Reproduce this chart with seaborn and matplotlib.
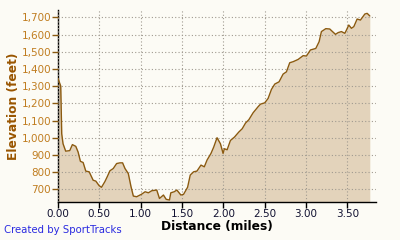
import matplotlib
matplotlib.use("Agg")
import matplotlib.pyplot as plt
import seaborn as sns
import pandas as pd

dist_miles = [0.000, 0.033, 0.045, 0.061, 0.093, 0.142, 0.174, 0.215, 0.243, 0.271,
              0.304, 0.336, 0.377, 0.425, 0.457, 0.498, 0.526, 0.567, 0.595, 0.628,
              0.668, 0.709, 0.749, 0.781, 0.810, 0.850, 0.883, 0.911, 0.951, 1.012,
              1.053, 1.093, 1.134, 1.194, 1.227, 1.275, 1.308, 1.348, 1.364, 1.405,
              1.437, 1.486, 1.518, 1.567, 1.599, 1.640, 1.680, 1.729, 1.769, 1.802,
              1.850, 1.883, 1.923, 1.964, 1.996, 2.012, 2.045, 2.085, 2.134, 2.186,
              2.227, 2.267, 2.308, 2.359, 2.419, 2.448, 2.500, 2.540, 2.581, 2.621,
              2.673, 2.722, 2.762, 2.802, 2.843, 2.903, 2.964, 3.004, 3.052, 3.117,
              3.157, 3.185, 3.238, 3.286, 3.319, 3.355, 3.387, 3.427, 3.468, 3.488,
              3.516, 3.548, 3.577, 3.617, 3.657, 3.710, 3.738, 3.770]
elev_feet = [1345, 1300, 1023, 965, 922, 925, 960, 950, 917, 863,
             856, 806, 802, 753, 748, 721, 712, 745, 773, 808,
             821, 850, 854, 854, 821, 792, 715, 661, 657, 672,
             686, 680, 692, 696, 647, 667, 642, 638, 680, 686,
             696, 667, 671, 712, 783, 802, 806, 841, 831, 870,
             909, 946, 1000, 965, 909, 936, 930, 984, 1004, 1033,
             1052, 1085, 1105, 1145, 1180, 1195, 1203, 1228, 1281, 1312,
             1325, 1370, 1383, 1436, 1442, 1455, 1477, 1475, 1510, 1519,
             1558, 1617, 1634, 1632, 1617, 1601, 1611, 1617, 1607, 1626,
             1655, 1636, 1646, 1690, 1684, 1719, 1723, 1708]

df = pd.DataFrame({"Distance (miles)": dist_miles, "Elevation (feet)": elev_feet})

x_ticks = [0.0, 0.5, 1.0, 1.5, 2.0, 2.5, 3.0, 3.5]
y_ticks = [700, 800, 900, 1000, 1100, 1200, 1300, 1400, 1500, 1600, 1700]

bg = "#fcfbf5"
fill_c = "#e3d3bb"
line_c = "#8b5a10"

sns.set_style("white")
plt.rcParams["font.family"] = ["DejaVu Sans"]

fig = plt.figure(figsize=(4, 2.4), dpi=100, facecolor=bg)
ax = fig.add_axes([0.145, 0.158, 0.795, 0.8])
ax.set_facecolor(bg)

ax.fill_between(df["Distance (miles)"], df["Elevation (feet)"], 600, color=fill_c, lw=0, zorder=1)
sns.lineplot(data=df, x="Distance (miles)", y="Elevation (feet)", ax=ax, color=line_c,
             lw=1.0, zorder=3)

ax.set_xlim(0, 3.845)
ax.set_ylim(626, 1742)
ax.set_xticks(x_ticks)
ax.set_xticklabels([f"{v:.2f}" for v in x_ticks])
ax.set_yticks(y_ticks)
ax.set_yticklabels([f"{v:,}" for v in y_ticks])

ax.set_axisbelow(False)
ax.grid(True, color="#a09a90", ls=(0, (1, 2)), lw=0.8, zorder=2)

for s in ["top", "right"]:
    ax.spines[s].set_visible(False)
for s in ["left", "bottom"]:
    ax.spines[s].set_color("black")
    ax.spines[s].set_linewidth(1.0)

ax.tick_params(axis="y", direction="out", length=4, width=1, color=line_c,
               labelcolor="#c07d20", labelsize=7.5, pad=1)
ax.tick_params(axis="x", direction="out", length=4, width=1, color="black",
               labelcolor="#101030", labelsize=7.5, pad=1)
ax.tick_params(left=True, bottom=True)

ax.set_xlabel("Distance (miles)", fontsize=8.8, fontweight="bold", color="black", labelpad=1)
ax.set_ylabel("Elevation (feet)", fontsize=8.8, fontweight="bold", color="#995500", labelpad=1)

fig.text(0.01, 0.03, "Created by SportTracks", color="#2a2ae0", fontsize=7.3)

fig.savefig("out.png", dpi=100, facecolor=bg)
